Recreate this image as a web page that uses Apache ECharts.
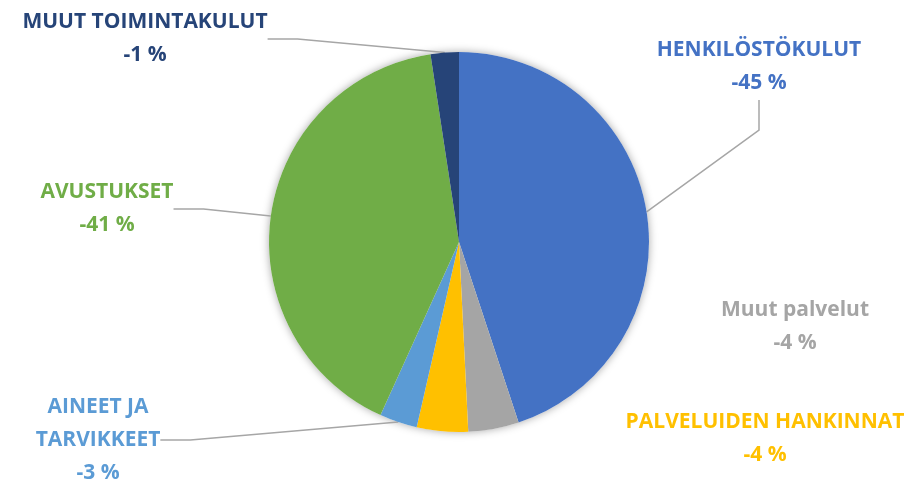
<!DOCTYPE html>
<html>
<head>
<meta charset="UTF-8">
<title>Toimintakulut</title>
<script src="https://cdn.jsdelivr.net/npm/echarts@6/dist/echarts.min.js"></script>
<style>
    body { margin: 0; padding: 0; background: #fff; }
    #main { width: 919px; height: 484px; }
</style>
</head>
<body>
<div id="main"></div>
<script type="text/javascript">
    // kategoriat ja osuudet (osuudet luettu kuvasta, %)
    var names = ['HENKILÖSTÖKULUT', 'Muut palvelut', 'PALVELUIDEN HANKINNAT', 'AINEET JA\nTARVIKKEET', 'AVUSTUKSET', 'MUUT TOIMINTAKULUT'];
    var shares = [44.9, 4.3, 4.35, 3.2, 40.8, 2.4];
    var pctLabels = ['-45 %', '-4 %', '-4 %', '-3 %', '-41 %', '-1 %'];
    var colors = ['#4472C4', '#A5A5A5', '#FFC000', '#5B9BD5', '#70AD47', '#264478'];

    // label centres, pixels
    var labelPos = [[759, 67], [795, 327], [765, 439], [98, 440], [107, 209], [145, 39]];
    var showLine = [true, false, false, true, true, true];

    var total = 0;
    for (var i = 0; i < shares.length; i++) total += shares[i];

    var data = [];
    for (var i = 0; i < names.length; i++) {
        data.push({
            name: names[i],
            value: shares[i],
            itemStyle: { color: colors[i] },
            label: { color: colors[i] },
            labelLine: { show: showLine[i] }
        });
    }

    var myChart = echarts.init(document.getElementById('main'));
    var option = {
        animation: false,
        series: [{
            type: 'pie',
            silent: true,
            center: [459, 242],
            radius: 190,
            z: 1,
            label: { show: false },
            labelLine: { show: false },
            itemStyle: { color: '#fff', shadowBlur: 8, shadowColor: 'rgba(0,0,0,0.35)' },
            data: [{ name: 'kaikki', value: total }]
        }, {
            type: 'pie',
            center: [459, 242],
            radius: 190,
            startAngle: 90,
            clockwise: true,
            z: 2,
            itemStyle: { borderWidth: 0 },
            label: {
                show: true,
                position: 'outside',
                fontFamily: 'Open Sans',
                fontWeight: 'bold',
                fontSize: 21,
                lineHeight: 33,
                align: 'center',
                formatter: function (p) {
                    return p.name + '\n' + pctLabels[p.dataIndex];
                }
            },
            labelLine: {
                lineStyle: { color: '#A6A6A6', width: 1.5 },
                smooth: false
            },
            labelLayout: function (p) {
                return {
                    x: labelPos[p.dataIndex][0],
                    y: labelPos[p.dataIndex][1],
                    align: 'center',
                    verticalAlign: 'middle',
                    hideOverlap: false
                };
            },
            data: data
        }]
    };
    myChart.setOption(option);
</script>
</body>
</html>
